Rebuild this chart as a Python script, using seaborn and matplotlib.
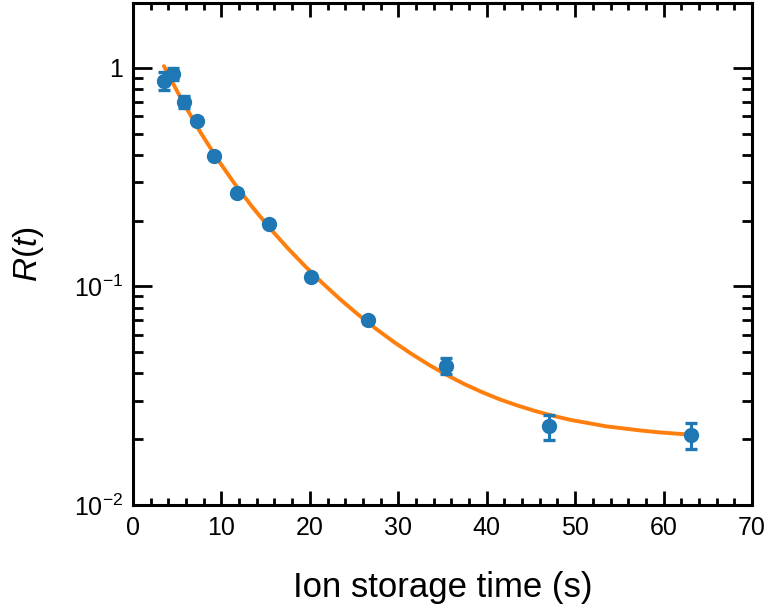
import numpy as np
import pandas as pd
import matplotlib
matplotlib.use("Agg")
import matplotlib.pyplot as plt
import seaborn as sns
from matplotlib.ticker import FixedLocator, FixedFormatter, MultipleLocator, LogLocator, NullFormatter

# --- data ---
t_data = [3.51, 4.56, 5.80, 7.20, 9.19, 11.8, 15.35, 20.13, 26.6, 35.36, 46.99, 63.07]
R_data = [0.875, 0.939, 0.697, 0.572, 0.396, 0.267, 0.1926, 0.1105, 0.0703, 0.0434, 0.02287, 0.0209]
R_err = [0.08, 0.06, 0.045, 0.015, 0.01, 0.007, 0.005, 0.003, 0.002, 0.0037, 0.003, 0.0029]

# fitted curve
t_fit = [3.5, 5.5, 7.5, 9.5, 11.5, 13.5, 15.5, 17.5, 19.5, 21.5, 23.5, 25.5, 27.5, 29.5, 31.5,
         33.5, 35.5, 37.5, 39.5, 41.5, 43.5, 45.5, 47.5, 49.5, 51.5, 53.5, 55.5, 57.5, 59.5, 61.5, 63.0]
R_fit = [1.0184, 0.7145, 0.5170, 0.3852, 0.2947, 0.2307, 0.1842, 0.1496, 0.1233, 0.1029, 0.0868,
         0.0741, 0.0639, 0.0557, 0.0491, 0.0437, 0.0393, 0.0357, 0.0328, 0.0304, 0.0285, 0.0269,
         0.0256, 0.0245, 0.0237, 0.0229, 0.0224, 0.0219, 0.0215, 0.0212, 0.0210]

x_ticks = [0, 10, 20, 30, 40, 50, 60, 70]
y_ticks = [0.01, 0.1, 1]
y_ticklabels = ["10$^{-2}$", "10$^{-1}$", "1"]

sns.set_theme(style="ticks")
plt.rcParams["font.family"] = ["Liberation Sans", "DejaVu Sans"]
plt.rcParams["mathtext.fontset"] = "custom"
plt.rcParams["mathtext.rm"] = "Liberation Sans"
plt.rcParams["mathtext.it"] = "Liberation Sans:italic"
plt.rcParams["mathtext.default"] = "regular"

fig = plt.figure(figsize=(7.68, 6.14), dpi=100)
ax = fig.add_axes([133/768, 1-505/614, (752-133)/768, (505-3)/614])

blue = "#1f77b4"
orange = "#ff7f0e"

fit_df = pd.DataFrame({"t": t_fit, "R": R_fit})
sns.lineplot(data=fit_df, x="t", y="R", ax=ax, color=orange, lw=2.8, zorder=2)

ax.errorbar(t_data, R_data, yerr=R_err, fmt="o", color=blue, ms=10,
            elinewidth=2.2, capsize=4.3, capthick=2.4, zorder=3)

ax.set_yscale("log")
ax.set_xlim(0, 70)
ax.set_ylim(0.01, 1.98)

ax.xaxis.set_major_locator(FixedLocator(x_ticks))
ax.xaxis.set_minor_locator(MultipleLocator(2))
ax.yaxis.set_major_locator(FixedLocator(y_ticks))
ax.yaxis.set_major_formatter(FixedFormatter(y_ticklabels))
ax.yaxis.set_minor_locator(LogLocator(base=10, subs=np.arange(2, 10)))
ax.yaxis.set_minor_formatter(NullFormatter())

for s in ax.spines.values():
    s.set_linewidth(2.2)
    s.set_color("black")

ax.tick_params(axis="both", which="both", direction="in", top=True, right=True,
               color="black", width=2.0, labelsize=18, labelcolor="black")
ax.tick_params(axis="x", which="major", length=10, pad=8)
ax.tick_params(axis="x", which="minor", length=5)
ax.tick_params(axis="y", which="major", length=14, pad=7)
ax.tick_params(axis="y", which="minor", length=7)

ax.set_xlabel("Ion storage time (s)", fontsize=25, labelpad=22, color="black")
ax.set_ylabel(r"$\mathit{R}$($\mathit{t}$)", fontsize=24, labelpad=20, color="black")

fig.savefig("out.png", dpi=100)
